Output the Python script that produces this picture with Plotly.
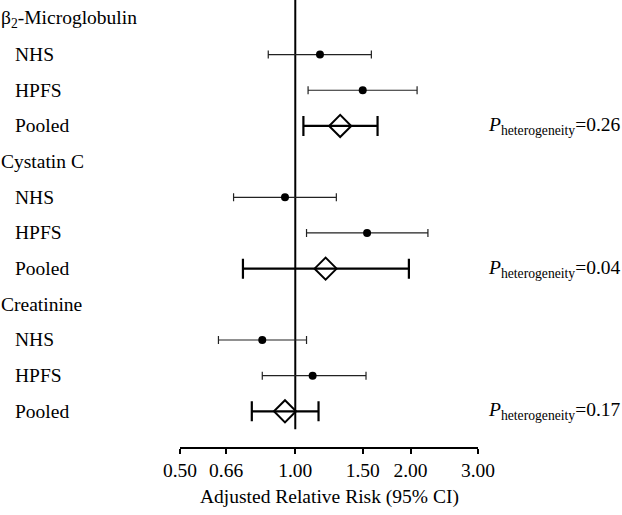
import math
import plotly.graph_objects as go

# ---- data ----
groups = ["β<sub>2</sub>-Microglobulin", "Cystatin C", "Creatinine"]
studies = ["NHS", "HPFS", "Pooled"]

est = {
    "β<sub>2</sub>-Microglobulin": [1.16, 1.50, 1.31],
    "Cystatin C": [0.94, 1.54, 1.20],
    "Creatinine": [0.82, 1.11, 0.94],
}
lo = {
    "β<sub>2</sub>-Microglobulin": [0.85, 1.08, 1.05],
    "Cystatin C": [0.69, 1.07, 0.73],
    "Creatinine": [0.63, 0.82, 0.77],
}
hi = {
    "β<sub>2</sub>-Microglobulin": [1.58, 2.08, 1.64],
    "Cystatin C": [1.28, 2.22, 1.98],
    "Creatinine": [1.07, 1.53, 1.15],
}
p_het = ["0.26", "0.04", "0.17"]

tick_vals = [0.5, 0.66, 1.0, 1.5, 2.0, 3.0]
tick_text = ["0.50", "0.66", "1.00", "1.50", "2.00", "3.00"]
x_title = "Adjusted Relative Risk (95% CI)"

FONT = "Liberation Serif, Times New Roman, serif"
FS = 19.5

# ---- build row layout ----
header_rows, study_x, study_y, study_lo, study_hi = [], [], [], [], []
pool_x, pool_y, pool_lo, pool_hi = [], [], [], []
label_rows = []
row = 0
for gi, g in enumerate(groups):
    header_rows.append((row, g))
    row += 1
    for si, s in enumerate(studies):
        label_rows.append((row, s))
        if s == "Pooled":
            pool_x.append(est[g][si]); pool_y.append(row)
            pool_lo.append(est[g][si] - lo[g][si]); pool_hi.append(hi[g][si] - est[g][si])
        else:
            study_x.append(est[g][si]); study_y.append(row)
            study_lo.append(est[g][si] - lo[g][si]); study_hi.append(hi[g][si] - est[g][si])
        row += 1
n_rows = row

fig = go.Figure()

# reference line at RR = 1
fig.add_trace(go.Scatter(
    x=[1, 1], y=[-0.6, n_rows - 0.5], mode="lines",
    line=dict(color="black", width=2), hoverinfo="skip", showlegend=False))

# individual studies
fig.add_trace(go.Scatter(
    x=study_x, y=study_y, mode="markers",
    marker=dict(symbol="circle", size=8, color="black"),
    error_x=dict(type="data", array=study_hi, arrayminus=study_lo,
                 color="#222222", thickness=1.2, width=4),
    showlegend=False))

# pooled
fig.add_trace(go.Scatter(
    x=pool_x, y=pool_y, mode="markers",
    marker=dict(symbol="diamond-open", size=17, color="black",
                line=dict(color="black", width=2)),
    error_x=dict(type="data", array=pool_hi, arrayminus=pool_lo,
                 color="black", thickness=2.2, width=10),
    showlegend=False))

ann = []
for r, g in header_rows:
    ann.append(dict(text=g, x=0, xref="paper", xshift=-181, xanchor="left",
                    y=r, yref="y", yanchor="middle", showarrow=False,
                    font=dict(family=FONT, size=FS, color="black")))
for r, s in label_rows:
    ann.append(dict(text=s, x=0, xref="paper", xshift=-167, xanchor="left",
                    y=r, yref="y", yanchor="middle", showarrow=False,
                    font=dict(family=FONT, size=FS, color="black")))
for (r, _), p in zip([lr for lr in label_rows if lr[1] == "Pooled"], p_het):
    ann.append(dict(text="<i>P</i><sub>heterogeneity</sub>=" + p,
                    x=1, xref="paper", xshift=145, xanchor="right",
                    y=r, yref="y", yanchor="middle", showarrow=False,
                    font=dict(family=FONT, size=FS, color="black")))
# axis title
ann.append(dict(text=x_title, x=0.5, xref="paper", y=0, yref="paper",
                yanchor="middle", yshift=-50, showarrow=False,
                font=dict(family=FONT, size=FS, color="black")))

fig.update_layout(
    width=622, height=515,
    margin=dict(l=180, r=144, t=0, b=68),
    paper_bgcolor="white", plot_bgcolor="white",
    font=dict(family=FONT, size=FS, color="black"),
    annotations=ann,
    xaxis=dict(type="log", range=[math.log10(tick_vals[0]), math.log10(tick_vals[-1])],
               tickvals=tick_vals, ticktext=tick_text,
               showline=True, linecolor="black", linewidth=2,
               ticks="outside", ticklen=5, tickwidth=2, tickcolor="black",
               showgrid=False, zeroline=False,
               tickfont=dict(family=FONT, size=FS, color="black")),
    yaxis=dict(range=[n_rows, -0.53], visible=False, showgrid=False),
)

fig.write_html("out.html", config={"displayModeBar": False},
               post_script="document.body.style.margin='0';document.body.style.padding='0';")
